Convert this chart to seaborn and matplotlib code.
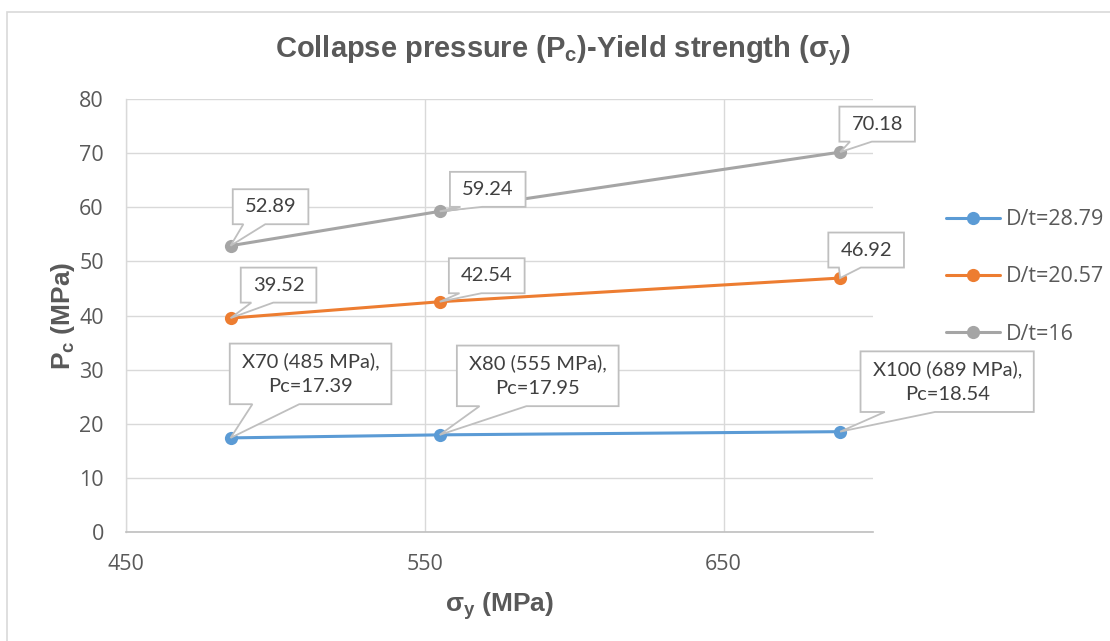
import numpy as np
import pandas as pd
import seaborn as sns
import matplotlib.pyplot as plt
from matplotlib.patches import Rectangle, Polygon

# Yield strength of the pipe grades (MPa)
yield_strength = [485, 555, 689]
grade_names = ["X70", "X80", "X100"]

# Collapse pressure (MPa) for each D/t ratio
pc_dt_2879 = [17.39, 17.95, 18.54]
pc_dt_2057 = [39.52, 42.54, 46.92]
pc_dt_16 = [52.89, 59.24, 70.18]

series_names = ["D/t=28.79", "D/t=20.57", "D/t=16"]
series_values = [pc_dt_2879, pc_dt_2057, pc_dt_16]
series_colors = ["#5B9BD5", "#ED7D31", "#A5A5A5"]

x_ticks = [450, 550, 650]
y_ticks = [0, 10, 20, 30, 40, 50, 60, 70, 80]

df = pd.DataFrame({
    "sigma_y": yield_strength * len(series_names),
    "Pc": [v for vals in series_values for v in vals],
    "series": [n for n in series_names for _ in yield_strength],
})

sns.set_theme(style="white")
plt.rcParams["font.family"] = ["Open Sans", "DejaVu Sans"]
plt.rcParams["mathtext.fontset"] = "custom"
plt.rcParams["mathtext.rm"] = "Liberation Sans:bold"
plt.rcParams["mathtext.it"] = "Liberation Sans:bold"
plt.rcParams["mathtext.bf"] = "Liberation Sans:bold"

DPI = 100
fig = plt.figure(figsize=(11.10, 6.41), dpi=DPI)
fig.patch.set_facecolor("white")
ax = fig.add_axes([0.1135, 0.170, 0.673, 0.6756])

# chart frame
fig.patches.append(Rectangle((7 / 1110, -0.01), 1.2, 1 - 11.5 / 641 + 0.01,
                             transform=fig.transFigure, fill=False,
                             edgecolor="#D9D9D9", linewidth=1.2, zorder=0))

sns.lineplot(data=df, x="sigma_y", y="Pc", hue="series", hue_order=series_names,
             palette=series_colors, marker="o", markersize=9.5,
             markeredgewidth=0, linewidth=2.2, ax=ax, zorder=3)

ax.set_xlim(450, 700)
ax.set_ylim(0, 80)
ax.set_xticks(x_ticks)
ax.set_yticks(y_ticks)
ax.grid(True, color="#D9D9D9", linewidth=1)
ax.set_axisbelow(True)
for side in ["top", "right"]:
    ax.spines[side].set_visible(False)
ax.spines["left"].set_color("#D9D9D9")
ax.spines["left"].set_linewidth(1)
ax.spines["bottom"].set_color("#BFBFBF")
ax.spines["bottom"].set_linewidth(1.2)
ax.tick_params(axis="both", length=0, labelsize=15.5, labelcolor="#595959")
ax.tick_params(axis="x", pad=16)
ax.tick_params(axis="y", pad=16)

ax.set_xlabel(r"$\sigma_y$ (MPa)", fontsize=19, color="#595959",
              family="Liberation Sans", weight="bold", labelpad=11)
ax.set_ylabel(r"$P_c$ (MPa)", fontsize=19, color="#595959",
              family="Liberation Sans", weight="bold", labelpad=1.5)
fig.text(0.507, 1 - 51 / 641, r"Collapse pressure ($P_c$)-Yield strength ($\sigma_y$)",
         ha="center", va="center", fontsize=21, color="#595959",
         family="Liberation Sans", weight="bold")

# legend on the right
ax.legend(title=None, frameon=False, loc="center left",
          bbox_to_anchor=(927 / 1110, 1 - 277 / 641), bbox_transform=fig.transFigure,
          fontsize=15.5, labelcolor="#595959", handlelength=2.5, handletextpad=0.28,
          labelspacing=1.68)

# callout labels: offsets (pixels) of each label box centre from its point
label_offsets = {
    "D/t=28.79": [(80, 64), (98, 59), (107, 50)],
    "D/t=20.57": [(48, 33), (47, 26), (26, 28)],
    "D/t=16": [(40, 39), (48, 22), (37, 28)],
}
callouts = []
for name, vals in zip(series_names, series_values):
    for i, (xv, yv) in enumerate(zip(yield_strength, vals)):
        if name == "D/t=28.79":
            txt = f"{grade_names[i]} ({xv} MPa),\nPc={yv:.2f}"
        else:
            txt = f"{yv:.2f}"
        t = ax.annotate(txt, xy=(xv, yv), xytext=label_offsets[name][i],
                        textcoords="offset pixels", ha="center", va="center",
                        fontsize=14.5, color="#404040", family="Lato",
                        linespacing=1.55, annotation_clip=False, zorder=7)
        callouts.append((t, xv, yv))

# callout boxes with a wedge pointing at the data point
fig.canvas.draw()
renderer = fig.canvas.get_renderer()
inv = ax.transData.inverted()
pad_x, pad_y = 12, 9
for t, xv, yv in callouts:
    bb = t.get_window_extent(renderer)
    x0, x1 = bb.x0 - pad_x, bb.x1 + pad_x
    y0, y1 = bb.y0 - pad_y, bb.y1 + pad_y
    w = x1 - x0
    tip = ax.transData.transform((xv, yv))
    verts = [(x0, y1), (x1, y1), (x1, y0), (x0 + 0.43 * w, y0), tuple(tip),
             (x0 + 0.14 * w, y0), (x0, y0)]
    verts = inv.transform(np.array(verts))
    ax.add_patch(Polygon(verts, closed=True, facecolor="white", edgecolor="#BFBFBF",
                         linewidth=1.3, joinstyle="miter", clip_on=False, zorder=6))

fig.savefig("out.png", dpi=DPI, facecolor="white")
